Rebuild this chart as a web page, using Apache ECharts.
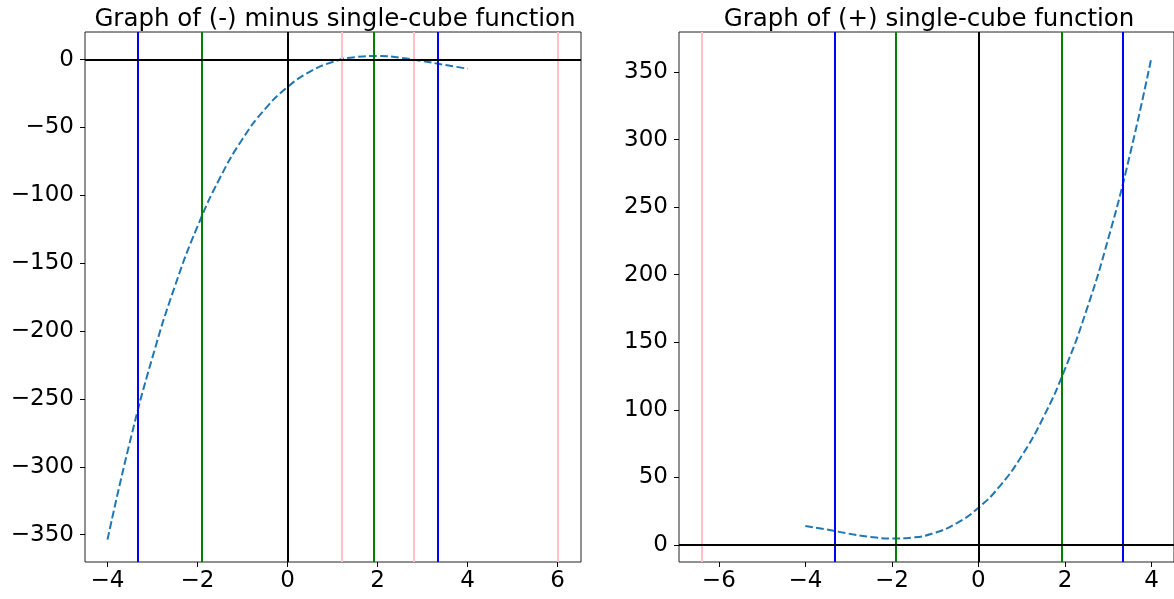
<!DOCTYPE html>
<html>
<head>
<meta charset="utf-8">
<script src="https://cdn.jsdelivr.net/npm/echarts@6/dist/echarts.min.js"></script>
<style>
  html, body { margin: 0; padding: 0; background: #fff; }
  #chart { width: 1174px; height: 599px; }
</style>
</head>
<body>
<div id="chart"></div>
<script>
// sample x positions (both curves)
const xs = [-4, -3.5, -3, -2.5, -2, -1.5, -1, -0.5, 0, 0.5, 1, 1.5, 2, 2.5, 3, 3.5, 4];

// left: (-) minus single-cube function
const leftY = [-353.6, -281.3, -219.2, -166.7, -122.9, -87.1, -58.5, -36.5, -20.2,
               -8.9, -1.8, 1.8, 2.6, 1.4, -1.1, -4.0, -6.7];
// right: (+) single-cube function
const rightY = [14.1, 11.4, 8.4, 6.0, 4.8, 5.6, 9.1, 16.2, 27.5,
                43.8, 65.9, 94.4, 130.2, 174.0, 226.6, 288.6, 360.9];

// vertical reference lines
const leftVX = [-3.33, -1.91, 0, 1.2, 1.92, 2.8, 3.33, 6];
const leftVColor = ['blue', 'green', 'black', 'pink', 'green', 'pink', 'blue', 'pink'];
const rightVX = [-6.4, -3.33, -1.91, 0, 1.92, 3.34];
const rightVColor = ['pink', 'blue', 'green', 'black', 'green', 'blue'];

// ticks
const leftXTicks = [-4, -2, 0, 2, 4, 6];
const leftYTicks = [-350, -300, -250, -200, -150, -100, -50, 0];
const rightXTicks = [-6, -4, -2, 0, 2, 4];
const rightYTicks = [0, 50, 100, 150, 200, 250, 300, 350];

const titles = ['Graph of (-) minus single-cube function', 'Graph of (+) single-cube function'];

const colorMap = { blue: '#0000ff', green: '#008000', black: '#000000', pink: '#ffc0cb' };
const FONT = 'DejaVu Sans';
const fmt = v => (v < 0 ? '\u2212' + Math.abs(v) : String(v));

function xAxisOf(idx, min, max, ticks) {
  return {
    type: 'value', gridIndex: idx, min: min, max: max,
    axisLine: { show: false, onZero: false },
    splitLine: { show: false },
    axisTick: { show: true, inside: false, length: 5, customValues: ticks,
                lineStyle: { color: '#000', width: 1 } },
    axisLabel: { customValues: ticks, formatter: fmt, color: '#000',
                 fontSize: 23, fontFamily: FONT, margin: 8 }
  };
}
function yAxisOf(idx, min, max, ticks) {
  return {
    type: 'value', gridIndex: idx, min: min, max: max,
    axisLine: { show: false, onZero: false },
    splitLine: { show: false },
    axisTick: { show: true, inside: false, length: 5, customValues: ticks,
                lineStyle: { color: '#000', width: 1 } },
    axisLabel: { customValues: ticks, formatter: fmt, color: '#000',
                 fontSize: 23, fontFamily: FONT, margin: 11 }
  };
}
function refLines(idx, vx, vc) {
  const data = vx.map((v, i) => ({ xAxis: v, lineStyle: { color: colorMap[vc[i]], width: 2, type: 'solid' } }));
  data.push({ yAxis: 0, lineStyle: { color: '#000', width: 2, type: 'solid' } });
  return {
    type: 'line', xAxisIndex: idx, yAxisIndex: idx, data: [], z: 1, silent: true,
    markLine: { symbol: ['none', 'none'], silent: true, animation: false,
                label: { show: false }, data: data }
  };
}
function curve(idx, ys) {
  return {
    type: 'line', xAxisIndex: idx, yAxisIndex: idx, z: 3,
    data: xs.map((x, i) => [x, ys[i]]),
    showSymbol: false, smooth: true,
    lineStyle: { color: '#1f77b4', width: 2, type: [7.7, 3.3] }
  };
}

const chart = echarts.init(document.getElementById('chart'));
chart.setOption({
  animation: false,
  backgroundColor: '#fff',
  title: [
    { text: titles[0], left: 330, top: 2, textAlign: 'center',
      textStyle: { fontSize: 24.5, fontWeight: 'normal', color: '#000', fontFamily: FONT } },
    { text: titles[1], left: 924, top: 2, textAlign: 'center',
      textStyle: { fontSize: 24.5, fontWeight: 'normal', color: '#000', fontFamily: FONT } }
  ],
  grid: [
    { left: 85, top: 32, width: 496, height: 530, show: true, borderColor: '#222', borderWidth: 1, backgroundColor: 'transparent' },
    { left: 679, top: 32, width: 496, height: 530, show: true, borderColor: '#222', borderWidth: 1, backgroundColor: 'transparent' }
  ],
  xAxis: [
    xAxisOf(0, -4.5, 6.52, leftXTicks),
    xAxisOf(1, -6.92, 4.52, rightXTicks)
  ],
  yAxis: [
    yAxisOf(0, -370.1, 20.3, leftYTicks),
    yAxisOf(1, -12.6, 379.6, rightYTicks)
  ],
  series: [
    refLines(0, leftVX, leftVColor),
    curve(0, leftY),
    refLines(1, rightVX, rightVColor),
    curve(1, rightY)
  ]
});
</script>
</body>
</html>
